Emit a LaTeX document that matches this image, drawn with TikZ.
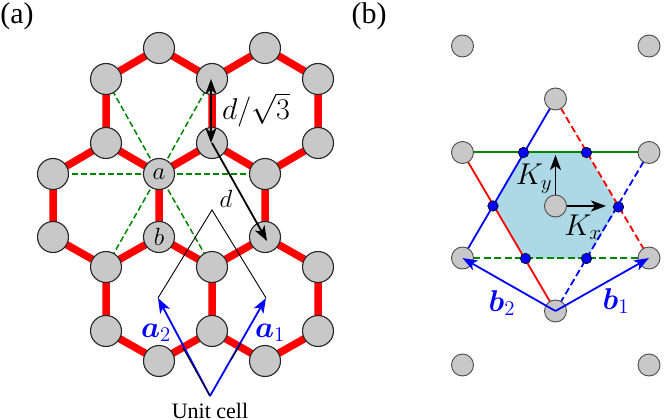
\documentclass[tikz,border=0pt]{standalone}
\usepackage{amsmath,bm}
\usepackage{graphicx}
\usepackage{fontspec}
\setmainfont{Liberation Serif}
\usetikzlibrary{arrows.meta}
\definecolor{atomgray}{RGB}{200,200,200}
\definecolor{bondred}{RGB}{255,0,0}
\definecolor{dgreen}{RGB}{0,135,0}
\definecolor{cellblue}{RGB}{173,216,230}
\newcommand{\mlab}[1]{\scalebox{1.2}{$#1$}}
\newcommand{\mlabb}[1]{\scalebox{1.45}{$#1$}}
\tikzset{
  x=1pt,y=-1pt,
  atomA/.style={circle,draw=black!85,line width=1.1pt,fill=atomgray,minimum size=31pt,inner sep=0pt,font=\fontsize{20.74}{24}\selectfont},
  atomB/.style={circle,draw=black!70,line width=0.9pt,fill=atomgray,minimum size=22pt,inner sep=0pt},
  kdot/.style={circle,draw=black,line width=0.6pt,fill=blue,minimum size=10.5pt,inner sep=0pt},
  bond/.style={bondred,line width=7.5pt},
  gdash/.style={dgreen,line width=1.5pt,dash pattern=on 6pt off 3pt},
  tip/.style={-{Stealth[length=15pt,width=11pt,inset=4pt]}},
  vecblue/.style={blue,line width=1.8pt,tip},
  veck/.style={black,line width=1.8pt,tip},
  lab/.style={inner sep=0pt,font=\fontsize{20.74}{24}\selectfont},
  title/.style={inner sep=0pt,font=\fontsize{30}{32}\selectfont},
}
\begin{document}
\begin{tikzpicture}
\useasboundingbox (0,0) rectangle (665,420);
% panel (a) atoms positions
\foreach \n/\px/\py in {t1/159/48,t2/265/48,
  u1/106/79,u2/212/79,u3/318/79,
  v1/106/143,v2/212/143,v3/318/143,
  w1/53/174,a/159/174,w3/265/174,
  x1/53/237,b/159/237,x3/265/237,
  y1/106/267,y2/212/267,y3/318/267,
  z1/106/331,z2/212/331,z3/318/331,
  s1/159/361,s2/265/361}
  {\coordinate (\n) at (\px,\py);}
% bonds
\draw[bond] (u1)--(t1)--(u2)--(t2)--(u3)--(v3)--(w3)--(v2)--(a)--(v1)--(u1)
  (u2)--(v2) (v1)--(w1)--(x1)--(y1)--(b)--(y2)--(x3)--(y3)--(z3)--(s2)--(z2)--(s1)--(z1)--(y1)
  (a)--(b) (w3)--(x3) (y2)--(z2);
% green dashes
\foreach \t in {w1,w3,u1,u2,y1,y2}{\draw[gdash] (a)--(\t);}
% atoms
\foreach \n in {t1,t2,u1,u2,u3,v1,v2,v3,w1,w3,x1,x3,y1,y2,y3,z1,z2,z3,s1,s2}
  {\node[atomA] (n\n) at (\n) {};}
\node[atomA] (na) at (a) {\mlab{a}};
\node[atomA] (nb) at (b) {\mlab{b}};
% unit cell
\coordinate (apex) at (212,210);
\coordinate (a2) at (158,298);
\coordinate (a1) at (266,298);
\coordinate (o) at (210,396);
\coordinate (ov1) at (183,348);
\coordinate (ov2) at (231,360);
\coordinate (ov3) at (241,343);
\draw[black,line width=0.9pt] (a2)--(apex)--(a1);
\draw[vecblue] (o)--(a1);
\draw[vecblue] (o)--(a2);
% dark overlay on the cell edges
\draw[black,line width=0.9pt] (o)--(ov1);
\draw[black,line width=0.9pt] (ov2)--(ov3);
% distances
\coordinate (p1) at (211,79);
\coordinate (p2) at (211,143);
\coordinate (p3) at (212,143);
\coordinate (p4) at (267,241);
\draw[black,line width=1.8pt,{Stealth[length=15pt,width=11pt,inset=4pt]}-{Stealth[length=15pt,width=11pt,inset=4pt]}] (p1)--(p2);
\draw[veck] (p3)--(p4);
% labels
\node[title] (la) at (17,16) {(a)};
\node[title] (lb) at (369,16) {(b)};
\node[lab] (ld1) at (256,110) {\mlabb{d/\sqrt{3}}};
\node[lab] (ld) at (226,199) {\mlab{d}};
\node[lab,blue] (la2) at (156,333) {\mlabb{\bm{a}_2}};
\node[lab,blue] (la1) at (270,333) {\mlabb{\bm{a}_1}};
\node[inner sep=0pt,anchor=base,font=\fontsize{22}{24}\selectfont] (uc) at (210,418) {Unit cell};
% panel (b)
\foreach \n/\px/\py in {B1/462.5/46,B2/649/46,B3/555.5/99,B4/462.5/152.5,B5/649/152.5,
  C/555.5/206,B6/462.5/258,B7/649/258,O/555.5/311,B8/462.5/365,B9/649/365}
  {\coordinate (\n) at (\px,\py);}
\foreach \n/\px/\py in {k1/523.5/152.5,k2/586.5/152.5,k3/618.5/207,k4/586.5/258.5,k5/525.5/258.5,k6/493/206}
  {\coordinate (\n) at (\px,\py);}
\fill[cellblue] (k1)--(k2)--(k3)--(k4)--(k5)--(k6)--cycle;
\draw[blue,line width=1.8pt] (B3)--(B6);
\draw[bondred,line width=1.8pt] (B4)--(O);
\draw[dgreen,line width=2pt] (B4)--(B5);
\draw[bondred,line width=1.8pt,dash pattern=on 7pt off 3.5pt] (B3)--(B7);
\draw[blue,line width=1.8pt,dash pattern=on 7pt off 3.5pt] (B5)--(O);
\draw[dgreen,line width=1.8pt,dash pattern=on 7pt off 3.5pt] (B6)--(B7);
\foreach \n in {B1,B2,B3,B4,B5,C,B6,B7,O,B8,B9}{\node[atomB] (n\n) at (\n) {};}
\foreach \n in {k1,k2,k3,k4,k5,k6}{\node[kdot] (n\n) at (\n) {};}
\coordinate (Kx) at (606,206);
\coordinate (Ky) at (555.5,155);
\draw[veck] (nC)--(Kx);
\draw[veck] (nC)--(Ky);
\draw[vecblue] (O)--(B7);
\draw[vecblue] (O)--(B6);
\node[lab] (lky) at (534,179) {\mlabb{K_y}};
\node[lab] (lkx) at (583,227) {\mlabb{K_x}};
\node[lab,blue] (lb2) at (502,303) {\mlabb{\bm{b}_2}};
\node[lab,blue] (lb1) at (616,301) {\mlabb{\bm{b}_1}};
\end{tikzpicture}
\end{document}
